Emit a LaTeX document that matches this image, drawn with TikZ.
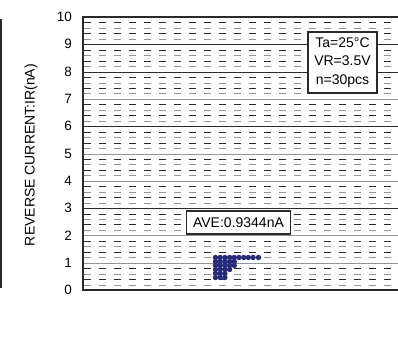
\documentclass[tikz,border=0pt]{standalone}
\usepackage{fontspec}
\setmainfont{Liberation Sans}
\definecolor{navy}{HTML}{262B7C}
\definecolor{darkln}{HTML}{2A2A2A}
\definecolor{grayln}{HTML}{959595}
\begin{document}
\begin{tikzpicture}[x=1pt,y=-1pt,
  ticklab/.style={anchor=east,inner sep=0pt,font=\fontsize{13.5}{14}\selectfont},
  boxlab/.style={draw=darkln,line width=1.2pt,fill=white,inner sep=0pt,font=\fontsize{14}{18.5}\selectfont},
  axisln/.style={line width=2pt,draw=darkln},
  majdark/.style={line width=1.1pt,draw=darkln},
  majgray/.style={line width=1.2pt,draw=grayln},
  mindark/.style={line width=1.1pt,draw=darkln,dash pattern=on 7pt off 8pt},
  mingray/.style={line width=1.2pt,draw=grayln,dash pattern=on 7pt off 8pt},
  dot/.style={fill=navy}]
\useasboundingbox (0,0) rectangle (398,337);
% left frame line
\draw[line width=1.8pt,draw=darkln] (1,19) -- (1,288);
% minor dashed lines
\foreach \k in {0,...,9}{
  \foreach \j/\st in {1/mindark,2/mingray,3/mindark,4/mingray}{
    \pgfmathsetmacro{\yy}{round(17+27.3*\k+5.46*\j)+0.5}
    \draw[\st] (84,\yy) -- (398,\yy);
  }
}
% major lines
\foreach \k/\st in {1/majdark,2/majdark,3/majgray,4/majdark,5/majgray,6/majgray,7/majdark,8/majgray,9/majgray}{
  \pgfmathsetmacro{\yy}{round(17+27.3*\k)+0.5}
  \draw[\st] (83,\yy) -- (398,\yy);
}
% axes
\draw[axisln] (398,17) -- (83,17) -- (83,290) -- (398,290);
% tick labels
\foreach \v in {0,...,10}{
  \node[ticklab] (t\v) at (72,{290-27.3*\v}) {\v};
}
% y label
\node[rotate=90,inner sep=0pt,font=\fontsize{14}{16}\selectfont] (ylab) at (31,155) {REVERSE CURRENT:IR(nA)};
% legend
\node[boxlab,minimum width=69pt,minimum height=61pt,align=center] (legend) at (342.5,62.5) {Ta=25°C\\VR=3.5V\\n=30pcs};
% average box
\node[boxlab,minimum width=104pt,minimum height=23pt] (ave) at (238.5,222.5) {AVE:0.9344nA};
% data dots
\foreach \x/\n in {215.5/6,220.2/6,224.9/6,229.6/4,234.3/3,239/1,243.7/1,248.4/1,253.1/1,258.5/1}{
  \foreach \i in {1,...,\n}{
    \fill[dot] (\x,{257.5+4*(\i-1)}) circle (2.7pt);
  }
}
\end{tikzpicture}
\end{document}
